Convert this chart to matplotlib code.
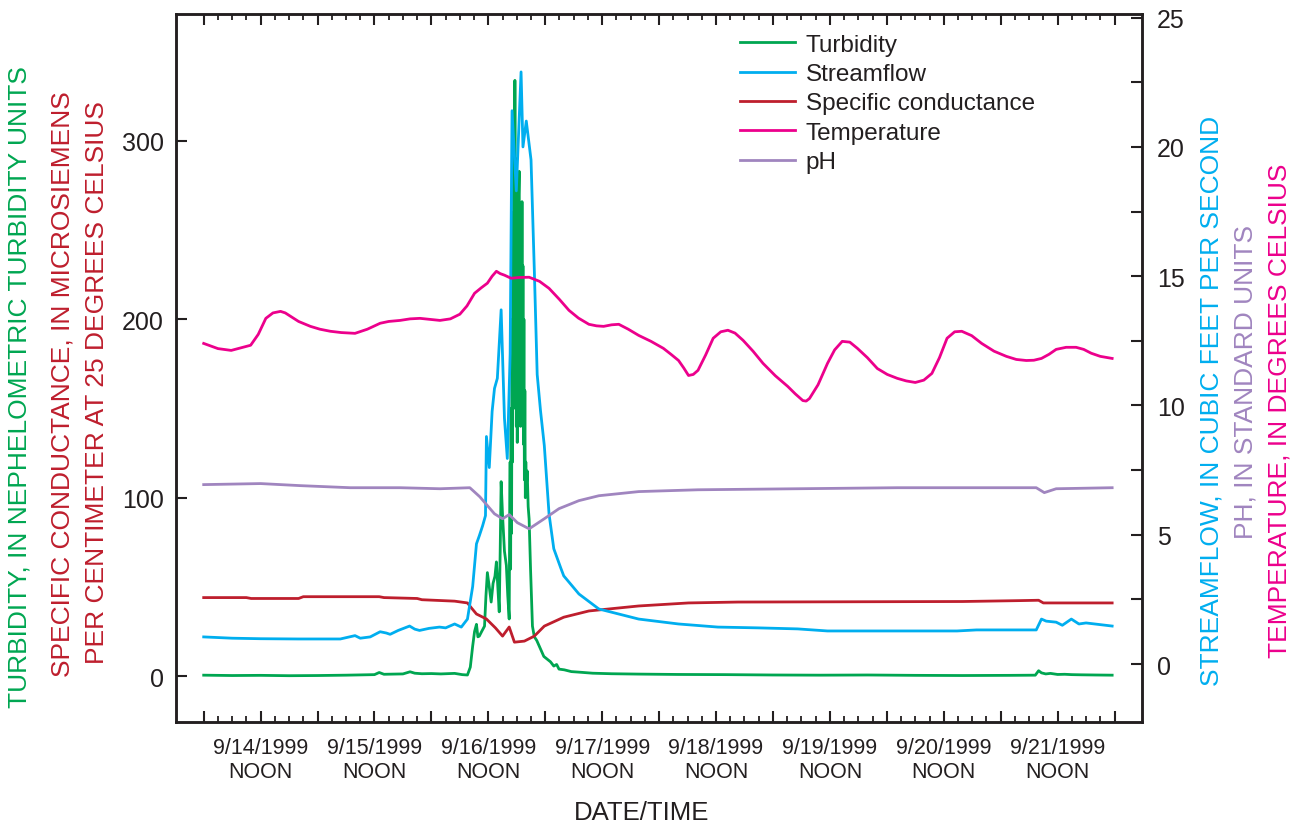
import matplotlib
matplotlib.use("Agg")
import matplotlib.pyplot as plt
from matplotlib.ticker import FixedLocator, FixedFormatter

plt.rcParams['font.family'] = ['Liberation Sans', 'DejaVu Sans']

# ---------------- data (time in hours after 9/14/1999 00:00) ----------------
turb_t = [0, 6, 12, 18, 24, 30, 36, 37, 38, 42, 43.5, 44.5, 46, 48, 50, 52.9, 54.5,
          55.6, 56.2, 56.7, 57.1, 57.5, 57.8, 58.1, 58.6, 59.2, 59.5, 59.8, 60.2, 60.6,
          61.0, 61.4, 61.7, 62.0, 62.3, 62.5, 62.7, 63.0, 63.4, 63.8, 64.1,
          64.4, 64.5, 64.6, 64.7, 64.8, 64.9, 65.0, 65.1, 65.2, 65.3, 65.4, 65.5, 65.6,
          65.7, 65.8, 65.9, 66.0, 66.1, 66.2, 66.3, 66.4, 66.5, 66.6, 66.7, 66.8, 66.9,
          67.0, 67.1, 67.2, 67.3, 67.4, 67.5, 67.6, 67.7, 67.8, 67.9, 68.0, 68.2, 68.4,
          68.6, 68.9, 69.3, 69.7, 70.2, 70.7, 71.2, 71.7, 72.4, 73.1,
          73.8, 74.4, 74.9, 76, 77.5, 79.1, 82, 86, 91.7, 100, 110, 120, 130, 140, 150,
          160, 170, 175.3, 176.0, 176.6, 177.5, 178.5, 180, 181.5, 183, 185, 188, 191.5]
turb_v = [0.5, 0.3, 0.4, 0.2, 0.3, 0.5, 0.8, 2.0, 1.0, 1.2, 2.4, 1.6, 1.3, 1.4, 1.2, 1.5, 0.8,
          0.6, 5, 16.8, 25, 29, 22, 22.4, 25, 28, 45, 58, 50, 41.5,
          52, 56, 64, 50, 36, 70, 109, 90, 70, 62, 45,
          32, 90, 120, 60, 150, 80, 200, 120, 260, 150, 300, 180, 334,
          200, 290, 140, 250, 131, 240, 150, 270, 283, 160, 250, 140, 240,
          180, 266, 150, 230, 130, 200, 110, 160, 100, 120, 105, 115, 95,
          88, 60, 28, 22, 20, 17, 14, 11, 9.5, 8,
          5.6, 6.5, 3.9, 3.5, 2.5, 2.2, 1.6, 1.3, 1.1, 0.9, 0.8, 0.6, 0.5, 0.6, 0.4,
          0.3, 0.4, 0.5, 3.0, 1.8, 1.2, 1.5, 0.9, 1.0, 0.8, 0.7, 0.6, 0.5]

flow_t = [0, 6, 12, 20, 28.8, 31.9, 33, 35.1, 37.2, 38.5, 39.3, 41, 43.4, 44.5, 45.5,
          47.5, 49.7, 51, 52.9, 54.3, 55.6, 56.7, 57.5, 58.1, 58.8, 59.4, 59.6, 60.2,
          60.8, 61.3, 61.9, 62.7, 63.4, 64.0, 64.6, 65.0, 65.9, 66.9, 67.3, 68.0, 69.0,
          69.7, 70.3, 71.0, 71.8, 72.8, 73.8, 75.3, 75.9, 79.1, 83.3, 91.7, 100.1, 108.4,
          116.8, 125.2, 131.5, 158.8, 162.9, 175.5, 176.6, 177.6, 179.7, 181, 182.9,
          184.5, 186.0, 191.5]
flow_v = [1.05, 1.0, 0.98, 0.97, 0.97, 1.1, 1.0, 1.05, 1.25, 1.2, 1.15, 1.3, 1.47, 1.35, 1.3,
          1.38, 1.43, 1.4, 1.55, 1.43, 1.74, 3.0, 4.65, 4.96, 5.35, 5.74, 8.8, 7.6,
          9.77, 10.66, 11.05, 13.7, 9.5, 7.95, 12, 21.4, 18.3, 22.9, 20.0, 21.0, 19.5,
          15.2, 11.2, 9.8, 8.45, 5.8, 4.46, 3.7, 3.41, 2.71, 2.13, 1.74, 1.55, 1.43,
          1.40, 1.36, 1.28, 1.28, 1.32, 1.32, 1.74, 1.66, 1.62, 1.5, 1.74,
          1.55, 1.59, 1.47]

cond_t = [0, 9, 10, 20, 21, 37, 38, 45, 46, 52.9, 55.6, 56.5, 57.5, 59.6, 61.5, 63.0,
          64.4, 65.5, 67.6, 69.7, 71.8, 75.9, 81.2, 91.7, 102.2, 112.6, 160, 172, 176,
          177, 191.5]
cond_v = [44, 44, 43.5, 43.5, 44.5, 44.5, 44, 43.5, 42.8, 42, 41, 38, 34.8, 32, 27, 22.4,
          27.5, 19, 19.6, 22.4, 28, 33, 36.5, 39.3, 41, 41.5, 41.8, 42.3, 42.5,
          41, 41]

temp_t = [0, 3, 5.8, 9.9, 11.5, 13.1, 14.6, 16.2, 17.2, 18.3, 20, 22.5, 24.5, 26.7, 29,
          31.9, 34.5, 37.2, 39, 41.4, 43.5, 45.6, 47.7, 49.8, 52, 54.0, 55.5, 57.1, 58.5,
          59.8, 60.8, 61.7, 62.5, 63.4, 64.8, 66.5, 68.6, 70.8, 72.8, 75, 77.0, 79,
          81.2, 82.8, 84.3, 86, 87.5, 89.5, 91.7, 94.3, 96.9, 98.5, 100.1, 101.2, 102.2,
          103.2, 104.2, 105.8, 107.4, 109, 110.5, 112, 113.7, 115.8, 117.9, 120.5, 123.1,
          124.7, 126.3, 127.0, 127.7, 129.5, 131.5, 133, 134.6, 136.2, 137.8, 139.9,
          142.0, 144.1, 146.2, 148.1, 150.0, 151.8, 153.5, 155.1, 156.7, 158.3, 159.8,
          161.9, 164.0, 166.6, 169.2, 171.3, 173.4, 175, 176.6, 178.2, 179.7, 181.8,
          183.9, 185.5, 187.1, 189, 191.5]
temp_v = [12.40, 12.2, 12.13, 12.33, 12.75, 13.37, 13.58, 13.64, 13.58, 13.45, 13.25, 13.06,
          12.95, 12.87, 12.82, 12.79, 12.95, 13.18, 13.25, 13.29, 13.35, 13.37, 13.33,
          13.29, 13.35, 13.53, 13.85, 14.34, 14.55, 14.73, 15.0, 15.19, 15.1, 15.04,
          14.92, 14.95, 14.96, 14.8, 14.53, 14.1, 13.68, 13.38, 13.14, 13.08, 13.06,
          13.12, 13.14, 12.95, 12.71, 12.48, 12.21, 11.98, 11.74, 11.45, 11.16, 11.2,
          11.36, 11.95, 12.60, 12.85, 12.91, 12.8, 12.52, 12.1, 11.63, 11.15, 10.74,
          10.45, 10.19, 10.17, 10.27, 10.8, 11.63, 12.15, 12.48, 12.45, 12.21, 11.85,
          11.43, 11.2, 11.05, 10.95, 10.89, 10.98, 11.24, 11.85, 12.60, 12.85, 12.87,
          12.7, 12.40, 12.1, 11.90, 11.78, 11.74, 11.75, 11.82, 11.98, 12.17, 12.25,
          12.25, 12.17, 12.02, 11.9, 11.82]

ph_t = [0, 12, 20.4, 30.9, 41.4, 49.8, 56.1, 58.2, 61.3, 63.0, 64.4, 66.1, 68.6, 71.8,
        74.9, 79.1, 83.3, 91.7, 104.2, 125.2, 146.2, 167.1, 175.5, 177.2, 179.7, 191.5]
ph_v = [6.94, 6.98, 6.90, 6.82, 6.82, 6.78, 6.82, 6.47, 5.81, 5.62, 5.78, 5.47, 5.23, 5.62,
        6.01, 6.32, 6.51, 6.67, 6.74, 6.78, 6.82, 6.82, 6.82, 6.63, 6.78, 6.82]

tick_hours = list(range(0, 193, 12))
tick_labels = ['' if h % 24 == 0 else '9/%d/1999\nNOON' % (14 + h // 24) for h in tick_hours]

# ---------------- styling ----------------
C_TURB = '#00A651'
C_FLOW = '#00AEEF'
C_COND = '#BE1E2D'
C_TEMP = '#EC008C'
C_PH = '#A085BF'
C_AX = '#231F20'
LW = 2.0

fig = plt.figure(figsize=(13.03, 8.29), dpi=100)
ax = fig.add_axes([0.1351, 0.1282, 0.7410, 0.8537])
ax2 = ax.twinx()

l_turb, = ax.plot(turb_t, turb_v, color=C_TURB, lw=LW, label='Turbidity')
l_cond, = ax.plot(cond_t, cond_v, color=C_COND, lw=LW, label='Specific conductance')
l_flow, = ax2.plot(flow_t, flow_v, color=C_FLOW, lw=LW, label='Streamflow')
l_ph, = ax2.plot(ph_t, ph_v, color=C_PH, lw=LW, label='pH')
l_temp, = ax2.plot(temp_t, temp_v, color=C_TEMP, lw=LW, label='Temperature')

ax.set_xlim(-5.83, 197.7)
ax.set_ylim(-25.6, 371.2)
ax2.set_ylim(-2.23, 25.14)

ax.xaxis.set_major_locator(FixedLocator(tick_hours))
ax.xaxis.set_major_formatter(FixedFormatter(tick_labels))
ax.xaxis.set_minor_locator(FixedLocator(list(range(0, 193, 3))))
ax.set_yticks([0, 100, 200, 300])
ax2.set_yticks([0, 5, 10, 15, 20, 25])
ax2.yaxis.set_minor_locator(FixedLocator([2.5, 7.5, 12.5, 17.5, 22.5]))

ax.tick_params(axis='x', which='major', direction='in', top=True, bottom=True,
               length=8, width=1.5, color=C_AX, labelsize=15.5, pad=11, labelcolor=C_AX)
ax.tick_params(axis='x', which='minor', direction='in', top=True, bottom=True,
               length=4, width=1.3, color=C_AX)
ax.tick_params(axis='y', which='major', direction='in', left=True, right=False,
               length=8, width=1.5, color=C_AX, labelsize=18, pad=9, labelcolor=C_AX)
ax2.tick_params(axis='y', which='both', direction='in', right=True, left=False,
                length=8, width=1.5, color=C_AX, labelsize=18, pad=11, labelcolor=C_AX)
for a in (ax, ax2):
    for s in a.spines.values():
        s.set_linewidth(1.8)
        s.set_color(C_AX)

ax.set_xlabel('DATE/TIME', fontsize=18.5, color=C_AX)
ax.xaxis.set_label_coords(0.482, -0.111)

# axis titles
fs_lab = 19
fig.text(0.0153, 0.533, 'TURBIDITY, IN NEPHELOMETRIC TURBIDITY UNITS', rotation=90,
         ha='center', va='center', color=C_TURB, fontsize=fs_lab)
fig.text(0.0476, 0.537, 'SPECIFIC CONDUCTANCE, IN MICROSIEMENS', rotation=90,
         ha='center', va='center', color=C_COND, fontsize=fs_lab)
fig.text(0.0744, 0.539, 'PER CENTIMETER AT 25 DEGREES CELSIUS', rotation=90,
         ha='center', va='center', color=C_COND, fontsize=fs_lab)
fig.text(0.930, 0.516, 'STREAMFLOW, IN CUBIC FEET PER SECOND', rotation=90,
         ha='center', va='center', color=C_FLOW, fontsize=fs_lab)
fig.text(0.9555, 0.539, 'PH, IN STANDARD UNITS', rotation=90,
         ha='center', va='center', color=C_PH, fontsize=fs_lab)
fig.text(0.9823, 0.505, 'TEMPERATURE, IN DEGREES CELSIUS', rotation=90,
         ha='center', va='center', color=C_TEMP, fontsize=fs_lab)

handles = [l_turb, l_flow, l_cond, l_temp, l_ph]
ax2.legend(handles, [h.get_label() for h in handles], loc='upper left',
           bbox_to_anchor=(0.584, 0.972), frameon=False, fontsize=17.5,
           handlelength=2.26, handletextpad=0.45, labelspacing=0.30,
           borderpad=0, borderaxespad=0, labelcolor=C_AX)

fig.savefig('out.png', dpi=100)
